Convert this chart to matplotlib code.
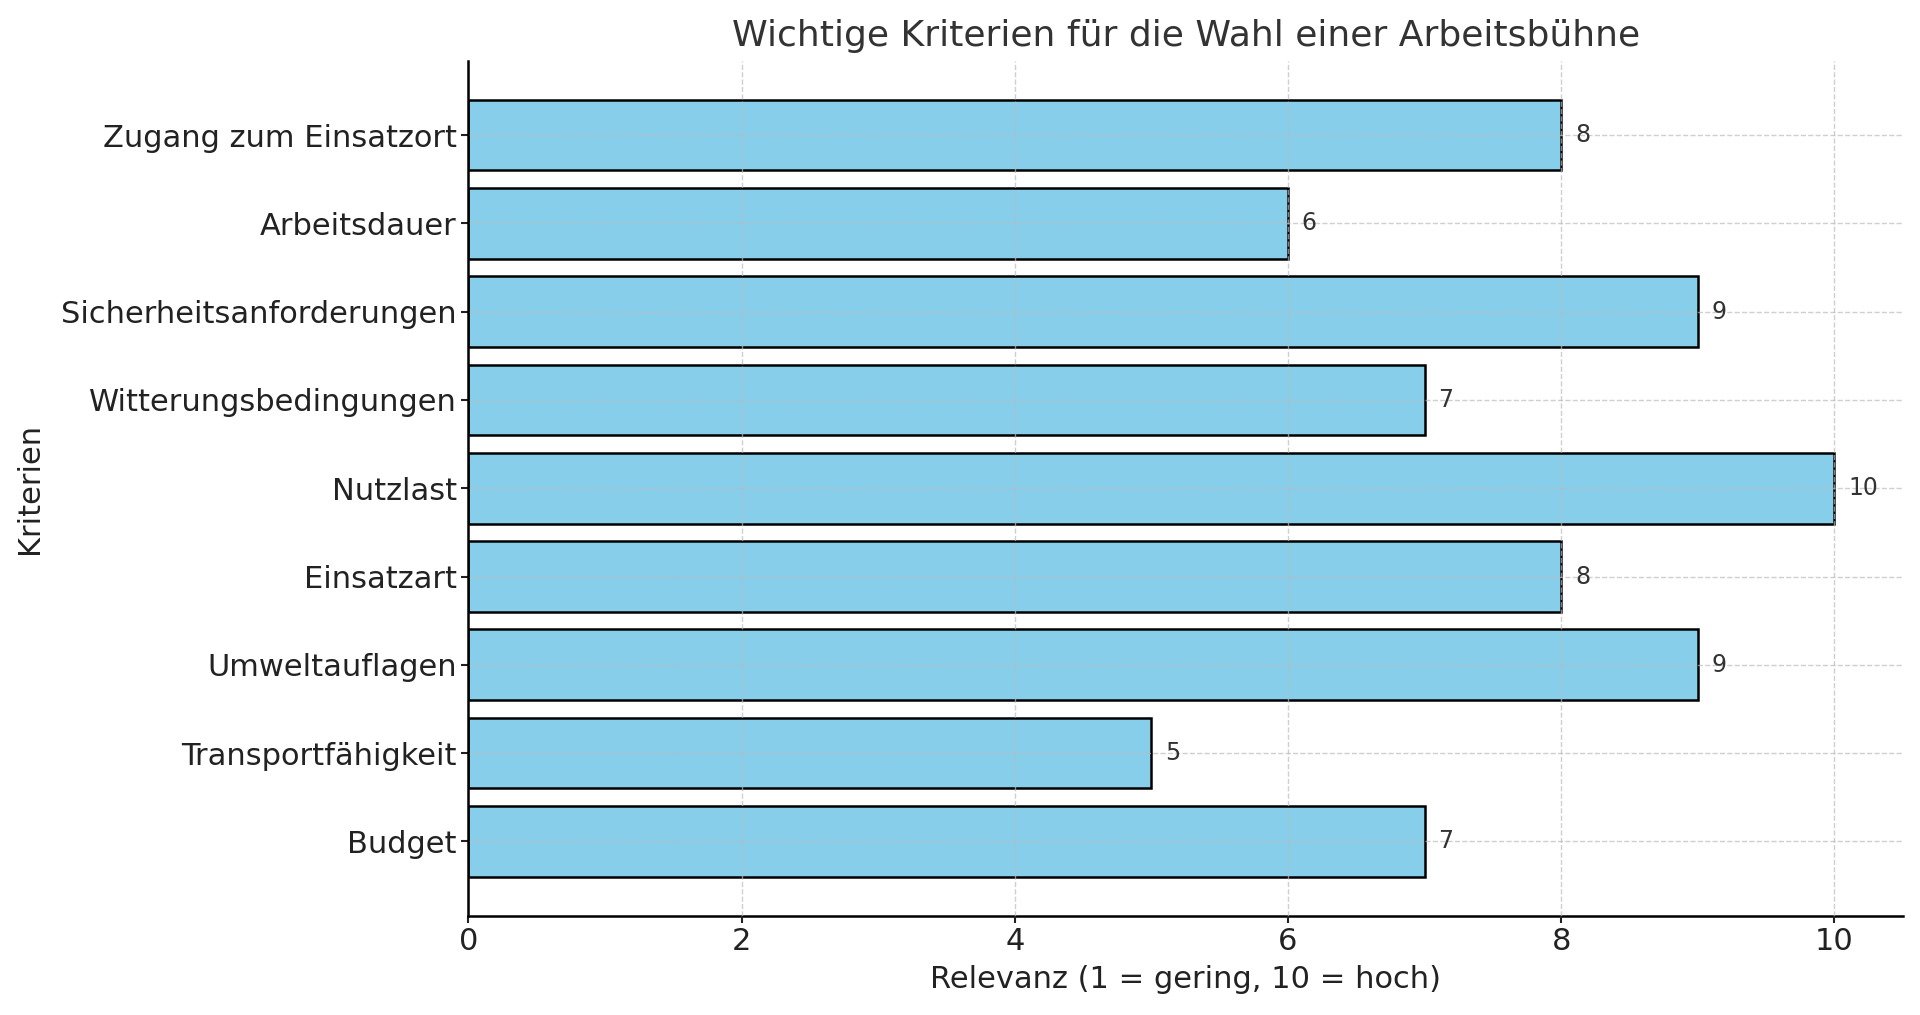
import matplotlib.pyplot as plt

kriterien = ['Budget', 'Transportfähigkeit', 'Umweltauflagen', 'Einsatzart', 'Nutzlast',
             'Witterungsbedingungen', 'Sicherheitsanforderungen', 'Arbeitsdauer', 'Zugang zum Einsatzort']
relevanz = [7, 5, 9, 8, 10, 7, 9, 6, 8]

plt.rcParams['font.family'] = 'DejaVu Sans'
plt.rcParams['text.color'] = '#333333'

fig, ax = plt.subplots(figsize=(19.2, 10.15), dpi=100)
bars = ax.barh(kriterien, relevanz, color='skyblue', edgecolor='black', linewidth=1.8, height=0.8)

for bar in bars:
    w = bar.get_width()
    ax.text(w + 0.1, bar.get_y() + bar.get_height() / 2, str(int(w)),
            va='center', ha='left', fontsize=17, color='#333333')

ax.set_title('Wichtige Kriterien für die Wahl einer Arbeitsbühne', fontsize=26, color='#333333', pad=11)
ax.set_xlabel('Relevanz (1 = gering, 10 = hoch)', fontsize=22, color='#222222', labelpad=6)
ax.set_ylabel('Kriterien', fontsize=22, color='#222222', labelpad=12)
ax.tick_params(axis='both', labelsize=22, colors='#222222', width=1.5, length=5)
ax.grid(True, linestyle='--', color='#bbbbbb', linewidth=1, alpha=0.7)
ax.set_axisbelow(False)
ax.spines['top'].set_visible(False)
ax.spines['right'].set_visible(False)
ax.spines['left'].set_linewidth(1.8)
ax.spines['bottom'].set_linewidth(1.8)
ax.spines['left'].set_zorder(5)

plt.subplots_adjust(left=0.244, right=0.991, top=0.94, bottom=0.098)
plt.savefig('out.png')
